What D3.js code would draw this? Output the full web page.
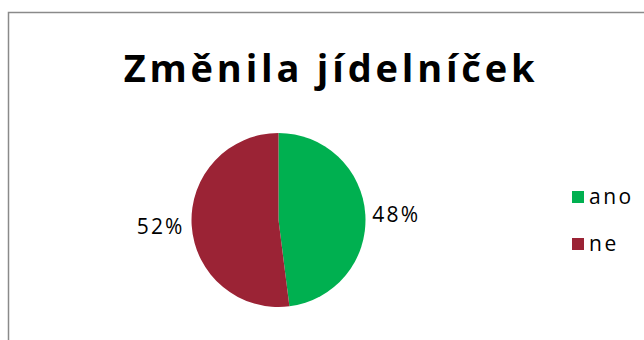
<!DOCTYPE html>
<html><head><meta charset="utf-8">
<script src="https://cdn.jsdelivr.net/npm/d3@7"></script>
<style>html,body{margin:0;padding:0;background:#fff;}svg{display:block;}</style>
</head><body>
<script>
const title = "Změnila jídelníček";
const categories = ["ano", "ne"];
const values = [48, 52];
const colors = ["#00B050", "#9B2335"];

const W = 644, H = 340;
const svg = d3.select("body").append("svg").attr("width", W).attr("height", H);

svg.append("path").attr("d", `M8.5,${H} L8.5,12.5 L${W},12.5`)
  .attr("fill", "none").attr("stroke", "#8a8a8a").attr("stroke-width", 1.5);

svg.append("text").attr("x", 331).attr("y", 82).attr("text-anchor", "middle")
  .attr("font-family", "'Open Sans', sans-serif").attr("font-weight", "bold")
  .attr("font-size", 38).attr("letter-spacing", 3.8).attr("fill", "#000").text(title);

const cx = 278.5, cy = 220, r = 87;
const pie = d3.pie().sort(null).value(d => d)(values);
const arc = d3.arc().innerRadius(0).outerRadius(r);
const g = svg.append("g").attr("transform", `translate(${cx},${cy})`);
g.selectAll("path").data(pie).enter().append("path")
  .attr("d", arc).attr("fill", (d, i) => colors[i]);

const labelArc = d3.arc().innerRadius(r + 7).outerRadius(r + 7);
g.selectAll("text").data(pie).enter().append("text")
  .attr("x", d => labelArc.centroid(d)[0])
  .attr("y", d => labelArc.centroid(d)[1] + 8)
  .attr("text-anchor", d => labelArc.centroid(d)[0] > 0 ? "start" : "end")
  .attr("font-family", "'Open Sans', sans-serif").attr("font-size", 21)
  .attr("letter-spacing", 2.2).attr("fill", "#000")
  .text(d => d.data + "%");

const leg = svg.append("g").attr("transform", "translate(572,191)");
categories.forEach((c, i) => {
  const row = leg.append("g").attr("transform", `translate(0,${i * 47})`);
  row.append("rect").attr("width", 12).attr("height", 12).attr("fill", colors[i]);
  row.append("text").attr("x", 17).attr("y", 13)
    .attr("font-family", "'Open Sans', sans-serif").attr("font-size", 21)
    .attr("letter-spacing", 2.5).attr("fill", "#000").text(c);
});
</script>
</body></html>
